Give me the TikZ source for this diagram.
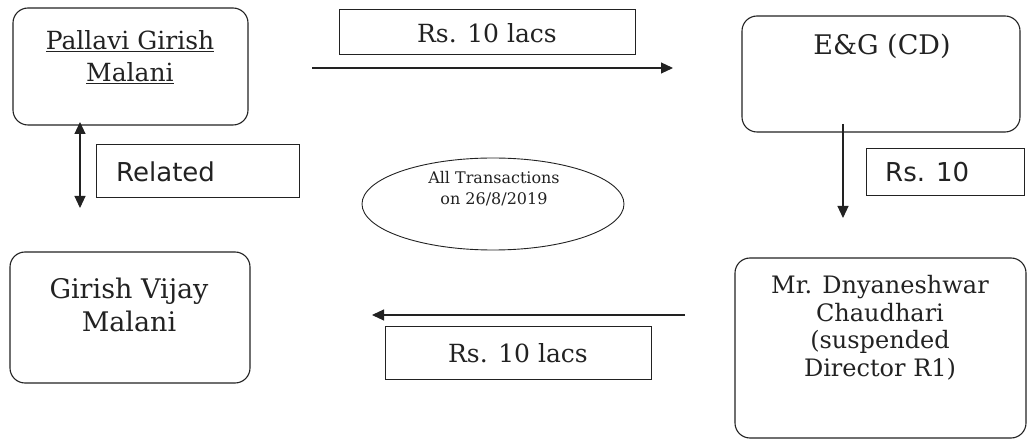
\documentclass[tikz,border=0pt]{standalone}
\usepackage{fontspec}
\setmainfont{DejaVu Serif}
\newfontfamily\verd{DejaVu Sans}
\usetikzlibrary{arrows.meta}
\definecolor{ink}{HTML}{222222}
\begin{document}
\begin{tikzpicture}[x=1pt,y=-1pt,
  rbox/.style={draw=ink, line width=1.1pt, rounded corners=15pt, inner sep=0pt},
  sbox/.style={draw=ink, line width=1pt, inner sep=0pt},
  txt/.style={text=ink, align=center, inner sep=0pt, font=\fontsize{25}{32}\selectfont},
  stxt/.style={text=ink, align=left, inner sep=0pt, font=\verd\fontsize{26}{30}\selectfont},
  arr/.style={draw=ink, line width=1.1pt, -{Triangle[length=12pt,width=11pt]}},
  darr/.style={draw=ink, line width=1.1pt, {Triangle[length=12pt,width=11pt]}-{Triangle[length=12pt,width=11pt]}}
]
\useasboundingbox (0,0) rectangle (1029,446);
% boxes
\node[rbox, minimum width=235pt, minimum height=117pt] (pg) at (130.5,66.5) {};
\node[txt] (pgt) at (130,57) {\underline{Pallavi Girish}\\\underline{Malani}};
\node[rbox, minimum width=278pt, minimum height=116pt] (eg) at (881,74) {};
\node[txt, font=\fontsize{27}{32}\selectfont] (egt) at (882,46) {E\&G (CD)};
\node[rbox, minimum width=240pt, minimum height=131pt] (gv) at (130,317.5) {};
\node[txt, font=\fontsize{27}{33}\selectfont] (gvt) at (129,305) {Girish Vijay\\Malani};
\node[rbox, minimum width=291pt, minimum height=180pt] (dc) at (880.5,348) {};
\node[txt, font=\fontsize{24}{27.5}\selectfont] (dct) at (880,328) {Mr. Dnyaneshwar\\Chaudhari\\(suspended\\Director R1)};
% label boxes
\node[sbox, minimum width=296pt, minimum height=45pt] (l1) at (487,32.5) {};
\node[txt] (l1t) at (487,33) {Rs. 10 lacs};
\node[sbox, minimum width=203pt, minimum height=53pt] (l2) at (197.5,171.5) {};
\node[stxt, anchor=west] (l2t) at (116,172) {Related};
\node[sbox, minimum width=158pt, minimum height=47pt] (l3) at (945,172) {};
\node[stxt, anchor=west] (l3t) at (885,172) {Rs. 10};
\node[sbox, minimum width=266pt, minimum height=53pt] (l4) at (518,353.5) {};
\node[txt] (l4t) at (518,353) {Rs. 10 lacs};
% ellipse
\draw[ink, line width=0.9pt] (493,204) ellipse [x radius=131pt, y radius=46pt];
\node[txt, font=\fontsize{16}{21}\selectfont] (el) at (494,189) {All Transactions\\on 26/8/2019};
% connectors
\coordinate (a1s) at (312,68);
\coordinate (a1e) at (673,68);
\draw[arr] (a1s) -- (a1e);
\coordinate (a2s) at (843,124);
\coordinate (a2e) at (843,218);
\draw[arr] (a2s) -- (a2e);
\coordinate (a3s) at (685,315);
\coordinate (a3e) at (372,315);
\draw[arr] (a3s) -- (a3e);
\coordinate (a4s) at (80,122);
\coordinate (a4e) at (80,208);
\draw[darr] (a4s) -- (a4e);
\end{tikzpicture}
\end{document}
